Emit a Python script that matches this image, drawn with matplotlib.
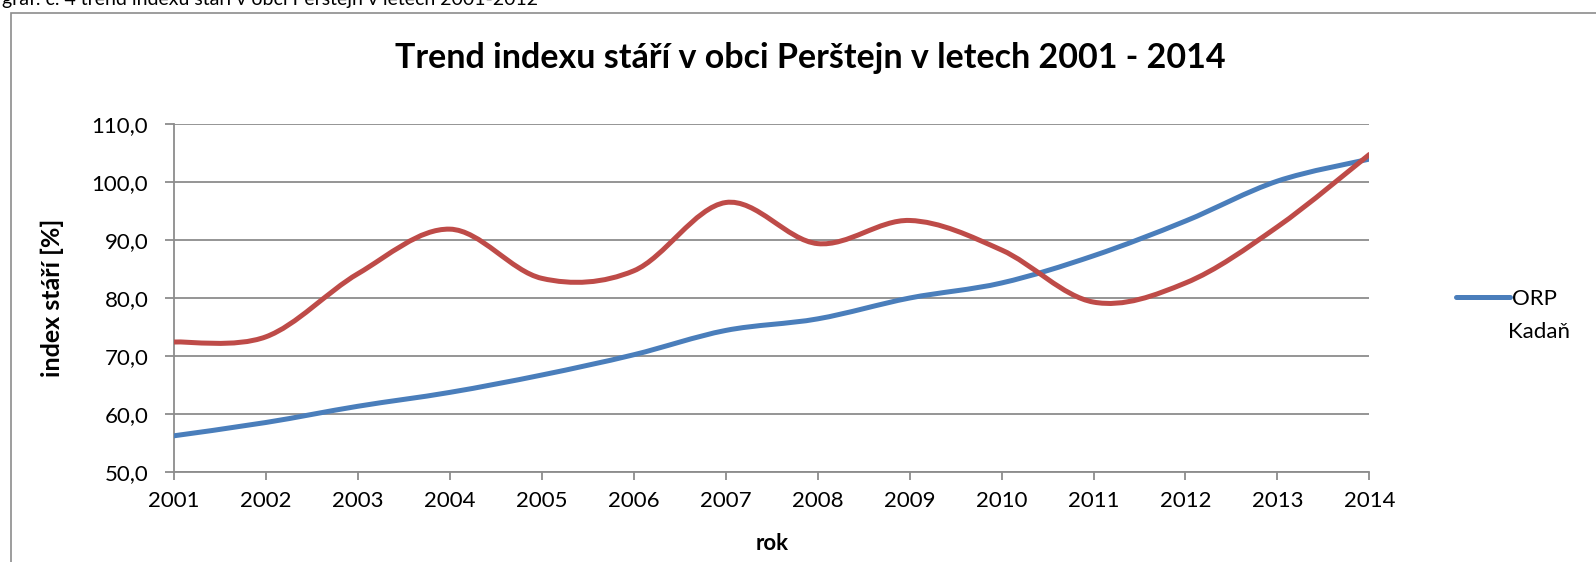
import matplotlib
matplotlib.use("Agg")
import matplotlib.pyplot as plt
from matplotlib.path import Path
from matplotlib.patches import PathPatch, Rectangle
from matplotlib.lines import Line2D

plt.rcParams['font.family'] = ['Lato', 'DejaVu Sans']

# data
years = list(range(2001, 2015))
orp_kadan = [56.2, 58.5, 61.3, 63.7, 66.7, 70.2, 74.4, 76.4, 80.0, 82.6, 87.3, 93.3, 100.2, 104.0]
perstejn = [72.4, 73.3, 84.2, 91.9, 83.4, 84.7, 96.5, 89.4, 93.4, 88.3, 79.3, 82.6, 92.3, 104.8]
y_ticks = [50, 60, 70, 80, 90, 100, 110]

BLUE = "#4A7EBB"
RED = "#BE4B48"
GRID = "#8C8C8C"


def smooth_path(xs, ys):
    """Excel-like smoothed line: cubic bezier through the points"""
    pts = list(zip(xs, ys))
    verts = [pts[0]]
    codes = [Path.MOVETO]
    n = len(pts)
    for i in range(n - 1):
        p0 = pts[max(i - 1, 0)]
        p1 = pts[i]
        p2 = pts[i + 1]
        p3 = pts[min(i + 2, n - 1)]
        c1 = (p1[0] + (p2[0] - p0[0]) / 6, p1[1] + (p2[1] - p0[1]) / 6)
        c2 = (p2[0] - (p3[0] - p1[0]) / 6, p2[1] - (p3[1] - p1[1]) / 6)
        verts += [c1, c2, p2]
        codes += [Path.CURVE4] * 3
    return Path(verts, codes)


fig = plt.figure(figsize=(15.96, 5.62), dpi=100)
ax = fig.add_axes([0.109, 0.1607, 0.749, 0.618])

for ys, col in [(orp_kadan, BLUE), (perstejn, RED)]:
    patch = PathPatch(smooth_path(years, ys), fill=False, edgecolor=col,
                      lw=3.6, capstyle='round', joinstyle='round', zorder=3)
    ax.add_patch(patch)

ax.set_xlim(2001, 2014)
ax.set_ylim(50, 110)
ax.set_xticks(years)
ax.set_yticks(y_ticks)
ax.set_yticklabels([f"{v:.1f}".replace(".", ",") for v in y_ticks])
ax.grid(axis='y', color=GRID, lw=1.3)
ax.set_axisbelow(True)
for s in ['top', 'right']:
    ax.spines[s].set_visible(False)
for s in ['left', 'bottom']:
    ax.spines[s].set_color(GRID)
    ax.spines[s].set_linewidth(1.3)
ax.tick_params(axis='y', length=6.5, width=1.3, color=GRID, pad=12, labelsize=16)
ax.tick_params(axis='x', length=6, width=1.3, color=GRID, pad=8, labelsize=16)

ax.set_xlabel("rok", fontsize=16, fontweight='bold', labelpad=16)
ax.set_ylabel("index stáří [%]", fontsize=18, fontweight='bold', labelpad=20)

fig.text(0.508, 0.897, "Trend indexu stáří v obci Perštejn v letech 2001 - 2014",
         ha='center', va='center', fontsize=24.5, fontweight='bold')

# caption cut off at the top edge
fig.text(0.001, 0.991, "graf. č. 4 trend indexu stáří v obci Perštejn v letech 2001-2012",
         ha='left', va='baseline', fontsize=14)

# chart frame
fig.patches.append(Rectangle((0.0066, -0.1), 1.2, 1.0769, transform=fig.transFigure,
                             fill=False, edgecolor=GRID, lw=1.2))

# legend (only blue entry visible in reference)
handle = Line2D([], [], color=BLUE, lw=3.6, solid_capstyle='round')
fig.legend([handle], ["ORP"], loc='center left', bbox_to_anchor=(0.9, 0.468),
           frameon=False, fontsize=16, handlelength=2.4, handletextpad=0.1)
fig.text(0.945, 0.41, "Kadaň", ha='left', va='center', fontsize=16)

fig.savefig("out.png", dpi=100)
